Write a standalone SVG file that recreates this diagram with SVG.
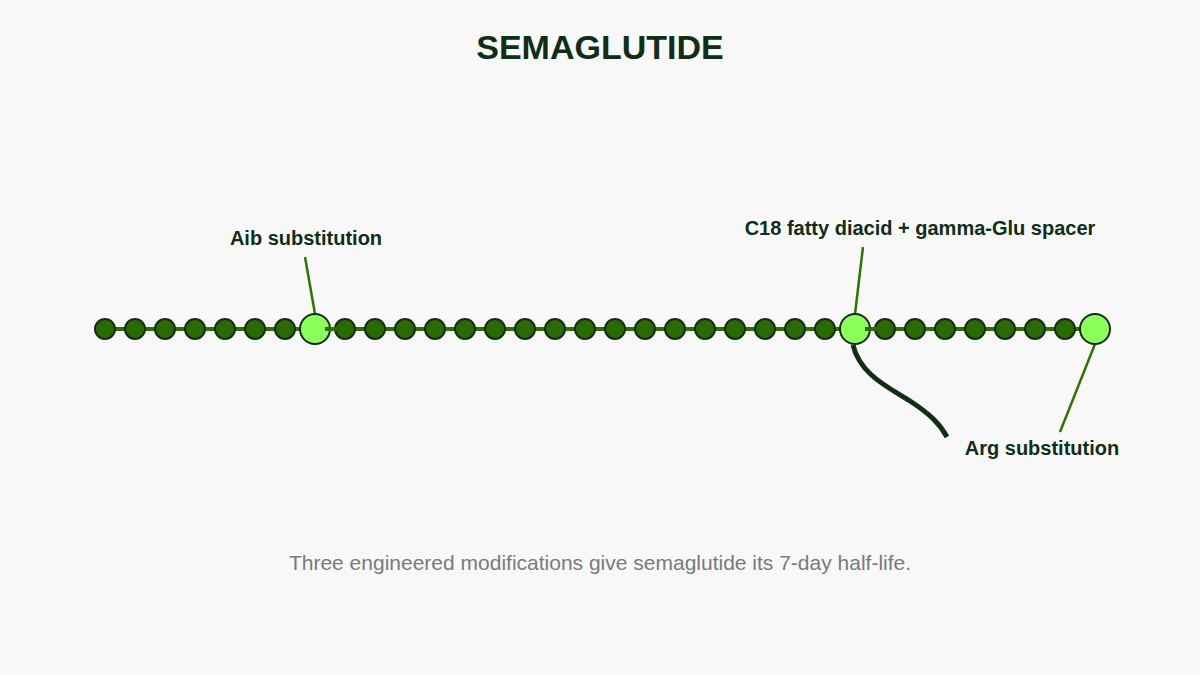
<svg xmlns="http://www.w3.org/2000/svg" width="1200" height="675" viewBox="0 0 1200 675">
<style>
.t{font-family:"Liberation Sans",Arial,sans-serif;font-weight:bold;fill:#0f2e16}
.lbl{font-size:20px;text-anchor:middle}
.aa{fill:#2a6a00;stroke:#0f2e16;stroke-width:2}
.mod{fill:#8cff5a;stroke:#0f2e16;stroke-width:2}
.lead{stroke:#2d7500;stroke-width:2.5;fill:none}
.bond{stroke:#2d7000;stroke-width:4}
</style>
<rect width="1200" height="675" fill="#f8f8f8"/>
<text class="t" x="600" y="59" font-size="34" text-anchor="middle">SEMAGLUTIDE</text>
<g id="connectors">
<line class="bond" x1="105" y1="329" x2="1095" y2="329"/>
<line class="lead" x1="315" y1="314" x2="305" y2="257"/>
<line class="lead" x1="855" y1="314" x2="863" y2="247"/>
<line class="lead" x1="1095" y1="344" x2="1060" y2="432"/>
<path d="M853 345 C860 375 890 388 910 401 S940 424 947 437" stroke="#0f2e16" stroke-width="5" fill="none"/>
</g>
<g id="chain">
<circle class="aa" cx="105" cy="329" r="10"/>
<circle class="aa" cx="135" cy="329" r="10"/>
<circle class="aa" cx="165" cy="329" r="10"/>
<circle class="aa" cx="195" cy="329" r="10"/>
<circle class="aa" cx="225" cy="329" r="10"/>
<circle class="aa" cx="255" cy="329" r="10"/>
<circle class="aa" cx="285" cy="329" r="10"/>
<circle class="aa" cx="345" cy="329" r="10"/>
<circle class="aa" cx="375" cy="329" r="10"/>
<circle class="aa" cx="405" cy="329" r="10"/>
<circle class="aa" cx="435" cy="329" r="10"/>
<circle class="aa" cx="465" cy="329" r="10"/>
<circle class="aa" cx="495" cy="329" r="10"/>
<circle class="aa" cx="525" cy="329" r="10"/>
<circle class="aa" cx="555" cy="329" r="10"/>
<circle class="aa" cx="585" cy="329" r="10"/>
<circle class="aa" cx="615" cy="329" r="10"/>
<circle class="aa" cx="645" cy="329" r="10"/>
<circle class="aa" cx="675" cy="329" r="10"/>
<circle class="aa" cx="705" cy="329" r="10"/>
<circle class="aa" cx="735" cy="329" r="10"/>
<circle class="aa" cx="765" cy="329" r="10"/>
<circle class="aa" cx="795" cy="329" r="10"/>
<circle class="aa" cx="825" cy="329" r="10"/>
<circle class="aa" cx="885" cy="329" r="10"/>
<circle class="aa" cx="915" cy="329" r="10"/>
<circle class="aa" cx="945" cy="329" r="10"/>
<circle class="aa" cx="975" cy="329" r="10"/>
<circle class="aa" cx="1005" cy="329" r="10"/>
<circle class="aa" cx="1035" cy="329" r="10"/>
<circle class="aa" cx="1065" cy="329" r="10"/>
</g>
<g id="aib">
<circle class="mod" cx="315" cy="329" r="15"/>
<line class="bond" x1="325" y1="329" x2="336" y2="329"/>
<text class="t lbl" x="306" y="245">Aib substitution</text>
</g>
<g id="c18">
<circle class="mod" cx="855" cy="329" r="15"/>
<line class="bond" x1="865" y1="329" x2="876" y2="329"/>
<text class="t lbl" x="920" y="235">C18 fatty diacid + gamma-Glu spacer</text>
</g>
<g id="arg">
<circle class="mod" cx="1095" cy="329" r="15"/>
<text class="t lbl" x="1042" y="455">Arg substitution</text>
</g>
<text x="600" y="570" font-family="Liberation Sans,Arial,sans-serif" font-size="21" fill="#7a7a7a" text-anchor="middle">Three engineered modifications give semaglutide its 7-day half-life.</text>
</svg>
